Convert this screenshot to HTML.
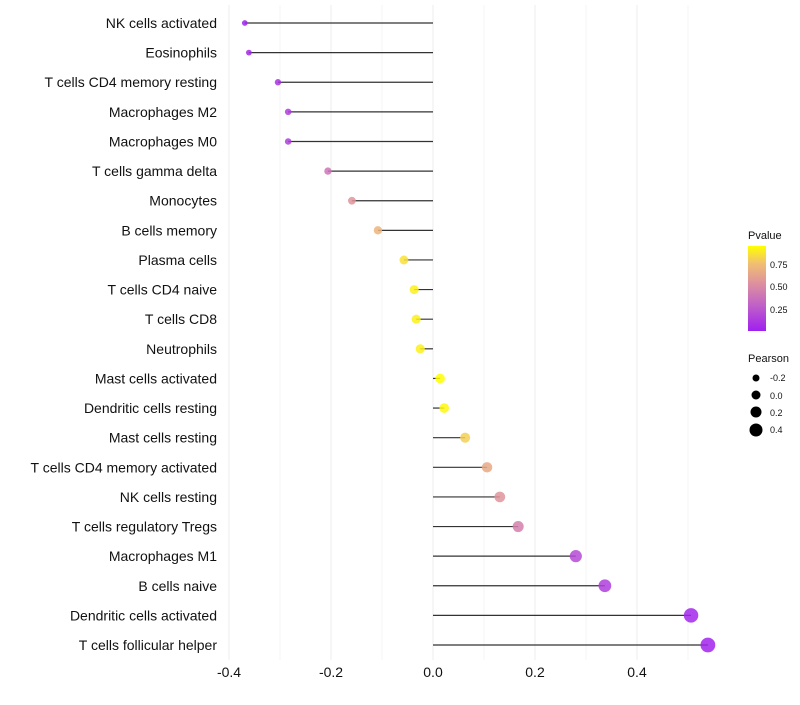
<!DOCTYPE html>
<html><head><meta charset="utf-8"><style>
body{margin:0;background:#fff;font-family:"Liberation Sans",sans-serif;}
</style></head><body>
<svg id="chart" width="800" height="700" xmlns="http://www.w3.org/2000/svg" font-family="Liberation Sans, sans-serif">
<defs><linearGradient id="pg" x1="0" y1="1" x2="0" y2="0">
<stop offset="0" stop-color="#a020f0"/><stop offset="0.3" stop-color="#c060c8"/><stop offset="0.55" stop-color="#dc8fa0"/><stop offset="0.8" stop-color="#f2c070"/><stop offset="1" stop-color="#ffff00"/></linearGradient></defs>
<g id="grid"></g><g id="marks"></g><g id="labels"></g>
<g font-size="9" fill="#111">
<text x="748" y="239" font-size="11">Pvalue</text>
<rect x="748" y="246" width="18" height="85" fill="url(#pg)"/>
<text x="770" y="268">0.75</text><text x="770" y="290">0.50</text><text x="770" y="313">0.25</text>
<text x="748" y="362" font-size="11">Pearson</text>
<circle cx="756" cy="378" r="3.5" fill="#000"/><text x="770" y="381">-0.2</text>
<circle cx="756" cy="395" r="4.5" fill="#000"/><text x="770" y="399">0.0</text>
<circle cx="756" cy="412" r="5.5" fill="#000"/><text x="770" y="416">0.2</text>
<circle cx="756" cy="430" r="6.5" fill="#000"/><text x="770" y="433">0.4</text>
</g>
</svg>
<script>
const cats=["NK cells activated","Eosinophils","T cells CD4 memory resting","Macrophages M2","Macrophages M0","T cells gamma delta","Monocytes","B cells memory","Plasma cells","T cells CD4 naive","T cells CD8","Neutrophils","Mast cells activated","Dendritic cells resting","Mast cells resting","T cells CD4 memory activated","NK cells resting","T cells regulatory  Tregs ","Macrophages M1","B cells naive","Dendritic cells activated","T cells follicular helper"];
const pearson=[-0.369,-0.361,-0.304,-0.284,-0.284,-0.206,-0.159,-0.108,-0.057,-0.037,-0.033,-0.025,0.014,0.022,0.063,0.106,0.131,0.167,0.280,0.337,0.506,0.539];
const pvals=[0.03,0.05,0.1,0.15,0.15,0.4,0.55,0.7,0.85,0.9,0.9,0.9,0.95,0.92,0.8,0.65,0.55,0.45,0.2,0.15,0.05,0.04];
const ticks=[-0.4,-0.2,0.0,0.2,0.4];
const minor=[-0.3,-0.1,0.1,0.3,0.5];
const NS="http://www.w3.org/2000/svg";
const x=v=>433+v*510;
const y=i=>23+i*29.62;
function mk(t,a,p){const e=document.createElementNS(NS,t);for(const k in a)e.setAttribute(k,a[k]);p.appendChild(e);return e;}
const stops=[[0,[160,32,240]],[0.3,[192,96,200]],[0.55,[220,143,160]],[0.8,[242,192,112]],[1,[255,255,0]]];
function col(p){p=Math.max(0,Math.min(1,(p-0.02)/0.92));for(let i=1;i<stops.length;i++){if(p<=stops[i][0]){const a=stops[i-1],b=stops[i],t=(p-a[0])/(b[0]-a[0]);return "rgb("+a[1].map((c,j)=>Math.round(c+(b[1][j]-c)*t)).join(",")+")";}}return "rgb(255,255,0)";}
const g=document.getElementById('grid'),m=document.getElementById('marks'),L=document.getElementById('labels');
minor.forEach(v=>{const l=mk('line',{x1:x(v),x2:x(v),y1:5,y2:660,stroke:'#f6f6f6','stroke-width':1},g);

});
ticks.forEach(v=>{const l=mk('line',{x1:x(v),x2:x(v),y1:5,y2:660,stroke:'#ececec','stroke-width':1},g);


const t=mk('text',{x:x(v),y:677,'text-anchor':'middle','font-size':14,fill:'#111'},L);t.textContent=v.toFixed(1);

});
cats.forEach((c,i)=>{const t=mk('text',{x:217,y:y(i)+5,'text-anchor':'end','font-size':14,fill:'#111'},L);t.textContent=c;


const ln=mk('line',{x1:x(0),x2:x(pearson[i]),y1:y(i),y2:y(i),stroke:'#333','stroke-width':1.2},m);


const r=Math.max(1.8,4.7+5*pearson[i]);
const ci=mk('circle',{cx:x(pearson[i]),cy:y(i),r:r,fill:col(pvals[i]),'fill-opacity':0.85},m);

});
</script>
</body></html>
